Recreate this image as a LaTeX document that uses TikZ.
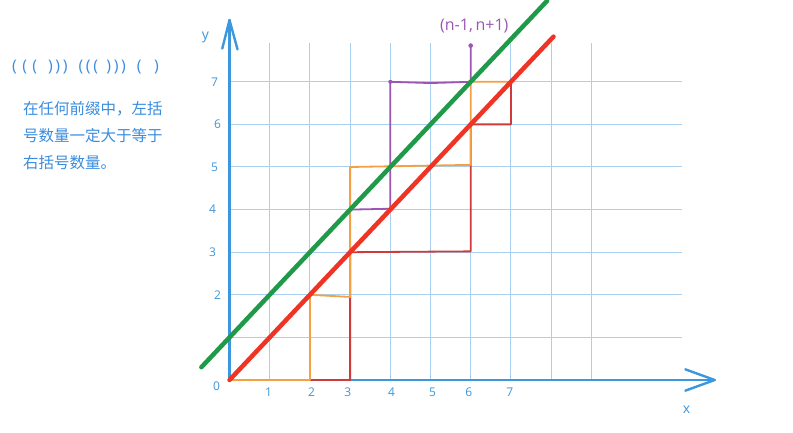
\documentclass[tikz,border=0pt]{standalone}
\usepackage{fontspec}
\setmainfont{Open Sans}
\newfontfamily\cjk{Noto Sans CJK SC}
\definecolor{axisblue}{HTML}{3D97DC}
\definecolor{gridblue}{HTML}{A9D0F0}
\definecolor{textblue}{HTML}{3A8DE0}
\definecolor{greenL}{HTML}{1F9A48}
\definecolor{redL}{HTML}{EF3324}
\definecolor{thinred}{HTML}{CF3A3A}
\definecolor{orangeP}{HTML}{F4A043}
\definecolor{purpleP}{HTML}{9B55B5}
\tikzset{
  gridline/.style={draw=gridblue,line width=1pt},
  axisline/.style={draw=axisblue,line width=2.4pt,line cap=round,line join=round},
  thickline/.style={line width=4.5pt,line cap=round},
  pathline/.style={line width=1.8pt,line join=round,line cap=round},
  ticklab/.style={text=axisblue,font=\fontsize{12}{12}\selectfont,inner sep=0pt},
}
\begin{document}
\begin{tikzpicture}[x=1pt,y=1pt]
\useasboundingbox (0,0) rectangle (793,432);
\fill[white] (0,0) rectangle (793,432);
% left texts
\node[anchor=west,text=textblue,inner sep=0pt,font=\fontsize{16}{16}\selectfont] (seq) at (12,365) {(\,\,(\,\,(\ \ \,)\,)\,)\ \ \,(\,(\,(\ \ )\,)\,)\ \ \,(\ \ \ )};
\node[anchor=north west,text=textblue,inner sep=0pt,align=left,font=\cjk\fontsize{15.5}{27.2}\selectfont] (rule) at (23,331) {在任何前缀中，左括\\号数量一定大于等于\\右括号数量。};
\begin{scope}[shift={(229.5pt,52pt)},x=40.2pt,y=42.6pt]
  % grid
  \foreach \i in {1,...,9} \draw[gridline] (\i,0) -- (\i,7.9);
  \foreach \j in {1,...,7} \draw[gridline] (0,\j) -- (11.25,\j);
  % axes
  \coordinate (O) at (0,0);
  \coordinate (xend) at (12.07,0);
  \coordinate (yend) at (0,8.45);
  \draw[axisline] (O) -- (xend);
  \draw[axisline] (11.34,0.25) -- (xend) -- (11.34,-0.25);
  \draw[axisline] (O) -- (yend);
  \draw[axisline] (-0.18,7.78) -- (yend) -- (0.2,7.76);
  % labels
  \node[ticklab,font=\fontsize{14}{14}\selectfont] (ly) at (-0.6,8.05) {y};
  \node[ticklab,font=\fontsize{14}{14}\selectfont] (lx) at (11.37,-0.7) {x};
  \node[ticklab] (l0) at (-0.32,-0.14) {0};
  \foreach \v/\xx in {1/0.97,2/2.04,3/2.94,4/4.03,5/5.05,6/5.95,7/6.97}
    \node[ticklab] (lx\v) at (\xx,-0.29) {\v};
  \foreach \v/\xx in {2/-0.3,3/-0.42,4/-0.42,5/-0.37,6/-0.3,7/-0.37}
    \node[ticklab] (ly\v) at (\xx,\v) {\v};
  % paths
  \draw[pathline,thinred] (0,0) -- (3,0) -- (3,3) -- (6,3.02) -- (6,6) -- (7,6) -- (7,7);
  \draw[pathline,orangeP] (0,0) -- (2,0) -- (2,2) -- (3,1.95) -- (3,5) -- (6,5.05) -- (6,7) -- (7,7);
  \draw[pathline,purpleP] (3,4) -- (4,4.02) -- (4,7) -- (5,6.97) -- (6,7) -- (6,7.85);
  \fill[purpleP] (4,7) circle (2pt);
  \fill[purpleP] (6,7.85) circle (2.3pt);
  \node[text=purpleP,inner sep=0pt,font=\fontsize{16}{16}\selectfont] (pt) at (6.09,8.31) {(n-1,\,n+1)};
  % diagonal lines
  \draw[thickline,greenL] (-0.7,0.3) -- (7.9,8.9);
  \draw[thickline,redL] (0,0) -- (8.06,8.06);
\end{scope}
\end{tikzpicture}
\end{document}
